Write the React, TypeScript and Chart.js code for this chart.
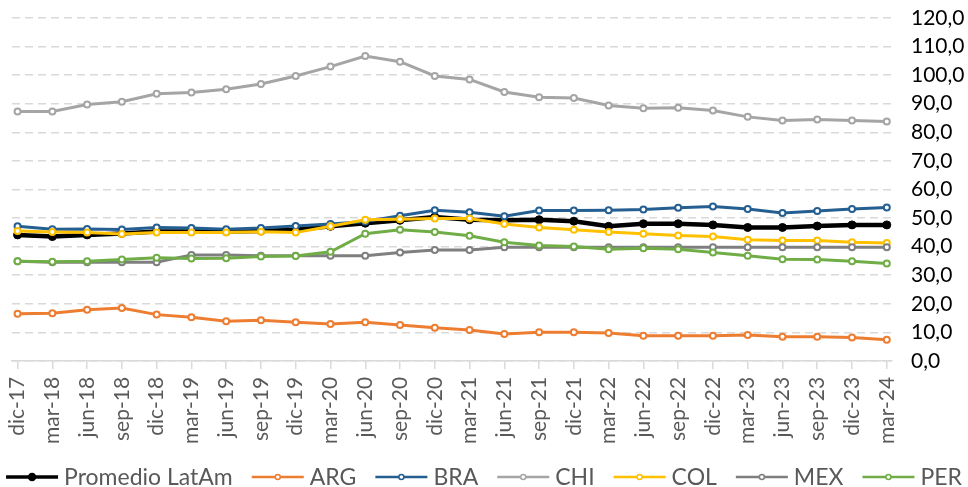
import React, { useEffect, useRef } from "react";
import { Chart, registerables } from "chart.js";

Chart.register(...registerables);

const categories = [
  "dic-17", "mar-18", "jun-18", "sep-18", "dic-18", "mar-19", "jun-19", "sep-19",
  "dic-19", "mar-20", "jun-20", "sep-20", "dic-20", "mar-21", "jun-21", "sep-21",
  "dic-21", "mar-22", "jun-22", "sep-22", "dic-22", "mar-23", "jun-23", "sep-23",
  "dic-23", "mar-24",
];

const promedio = [44.1, 43.5, 44.1, 44.6, 45.3, 45.3, 45.3, 45.5, 45.9, 47.1, 48.2, 49.2, 50.4, 49.4, 49.2, 49.4, 48.9, 47.1, 48.0, 48.0, 47.6, 46.7, 46.7, 47.2, 47.6, 47.6];
const arg = [16.5, 16.7, 17.9, 18.5, 16.2, 15.3, 13.9, 14.2, 13.5, 12.9, 13.5, 12.6, 11.6, 10.8, 9.4, 10.0, 10.0, 9.8, 8.8, 8.8, 8.8, 9.1, 8.5, 8.5, 8.2, 7.4];
const bra = [47.1, 46.1, 46.2, 46.0, 46.7, 46.5, 46.1, 46.5, 47.2, 47.9, 48.8, 50.8, 52.7, 52.0, 50.6, 52.6, 52.6, 52.7, 53.0, 53.6, 54.0, 53.2, 51.8, 52.5, 53.2, 53.7];
const chi = [87.3, 87.3, 89.7, 90.7, 93.5, 93.9, 95.1, 96.9, 99.7, 103.0, 106.7, 104.7, 99.7, 98.5, 94.1, 92.3, 92.0, 89.4, 88.4, 88.6, 87.6, 85.4, 84.1, 84.5, 84.1, 83.8];
const col = [45.5, 45.1, 44.9, 44.4, 44.9, 44.9, 44.9, 45.2, 44.9, 47.1, 49.4, 49.6, 49.8, 49.8, 47.9, 46.7, 45.9, 45.1, 44.5, 43.9, 43.5, 42.4, 42.1, 42.1, 41.5, 41.3];
const mex = [34.9, 34.5, 34.5, 34.5, 34.5, 37.1, 37.1, 36.8, 36.8, 36.8, 36.8, 37.9, 38.8, 38.8, 39.8, 39.8, 39.8, 39.8, 39.8, 39.8, 39.8, 39.8, 39.8, 39.8, 39.8, 39.8];
const per = [34.9, 34.7, 34.9, 35.5, 36.1, 35.8, 35.9, 36.5, 36.7, 38.2, 44.5, 45.9, 45.1, 43.8, 41.5, 40.4, 40.0, 39.1, 39.4, 39.1, 37.9, 36.8, 35.6, 35.5, 34.9, 34.1];

const seriesNames = ["Promedio LatAm", "ARG", "BRA", "CHI", "COL", "MEX", "PER"];
const seriesValues = [promedio, arg, bra, chi, col, mex, per];
const seriesColors = ["#000000", "#ED7D31", "#255E91", "#A5A5A5", "#FFC000", "#7F7F7F", "#70AD47"];

const yTicks = [0, 10, 20, 30, 40, 50, 60, 70, 80, 90, 100, 110, 120];

const FONT = "Lato, 'Open Sans', sans-serif";

const legendPlugin = {
  id: "excelLegend",
  afterDraw(chart: any) {
    const ctx = chart.ctx as CanvasRenderingContext2D;
    const datasets = chart.data.datasets;
    ctx.save();
    ctx.font = `23px ${FONT}`;
    const lineLen = 52;
    const gapText = 6;
    const gapItem = 19;
    const widths = datasets.map((ds: any) => lineLen + gapText + ctx.measureText(ds.label).width);
    const total = widths.reduce((a: number, b: number) => a + b, 0) + gapItem * (datasets.length - 1);
    let x = (chart.width - total) / 2;
    const y = chart.height - 10;
    datasets.forEach((ds: any, i: number) => {
      const isAvg = i === 0;
      ctx.strokeStyle = ds.borderColor;
      ctx.lineWidth = isAvg ? 3.5 : 2.5;
      ctx.beginPath();
      ctx.moveTo(x, y);
      ctx.lineTo(x + lineLen, y);
      ctx.stroke();
      ctx.beginPath();
      ctx.arc(x + lineLen / 2, y, isAvg ? 3.5 : 2.5, 0, Math.PI * 2);
      ctx.fillStyle = isAvg ? ds.borderColor : "#ffffff";
      ctx.fill();
      ctx.lineWidth = 1.5;
      ctx.stroke();
      ctx.fillStyle = "#595959";
      ctx.textAlign = "left";
      ctx.textBaseline = "middle";
      ctx.fillText(ds.label, x + lineLen + gapText, y + 1);
      x += widths[i] + gapItem;
    });
    ctx.restore();
  },
};

export default function App() {
  const canvasRef = useRef<HTMLCanvasElement | null>(null);

  useEffect(() => {
    if (!canvasRef.current) return;
    const datasets = seriesNames.map((name, i) => {
      const isAvg = i === 0;
      return {
        label: name,
        data: seriesValues[i].map((v, k) => ({ x: k, y: v })),
        borderColor: seriesColors[i],
        backgroundColor: seriesColors[i],
        borderWidth: isAvg ? 4.5 : 3,
        pointRadius: isAvg ? 4 : 3,
        pointBorderWidth: isAvg ? 1 : 2,
        pointBackgroundColor: isAvg ? seriesColors[i] : "#ffffff",
        pointBorderColor: seriesColors[i],
        pointHoverRadius: 4,
        tension: 0,
        fill: false,
        order: seriesNames.length - 1 - i,
      };
    });

    const chart = new Chart(canvasRef.current, {
      type: "line",
      data: { datasets },
      options: {
        responsive: false,
        animation: false,
        layout: { padding: { left: 12, right: 0, top: 18, bottom: 35 } },
        plugins: {
          legend: { display: false },
          tooltip: { enabled: false },
        },
        scales: {
          x: {
            type: "linear",
            min: -0.16,
            max: 25.15,
            afterBuildTicks: (scale: any) => {
              scale.ticks = categories.map((_, i) => ({ value: i }));
            },
            ticks: {
              autoSkip: false,
              maxRotation: 90,
              minRotation: 90,
              padding: 8,
              color: "#595959",
              font: { family: FONT, size: 21 },
              callback: (v: any) => categories[Math.round(Number(v))] ?? "",
            },
            grid: {
              drawOnChartArea: false,
              drawTicks: true,
              tickLength: 8,
              color: "#D9D9D9",
              lineWidth: 1.5,
            },
            border: { display: true, color: "#D9D9D9", width: 1.5 },
          },
          y: {
            position: "right",
            min: 0,
            max: 120,
            afterBuildTicks: (scale: any) => {
              scale.ticks = yTicks.map((v) => ({ value: v }));
            },
            afterFit: (scale: any) => {
              scale.width = 76;
            },
            ticks: {
              autoSkip: false,
              padding: 0,
              color: "#000000",
              font: { family: FONT, size: 21 },
              callback: (v: any) => Number(v).toFixed(1).replace(".", ","),
            },
            grid: {
              drawTicks: true,
              tickLength: 19,
              tickColor: "rgba(0,0,0,0)",
              color: "#D9D9D9",
              lineWidth: 1.5,
            },
            border: { display: false, dash: [8, 5] },
          },
        },
      },
      plugins: [legendPlugin],
    });
    return () => chart.destroy();
  }, []);

  return (
    <div style={{ position: "fixed", left: 0, top: 0, width: 968, height: 487, background: "#fff" }}>
      <canvas ref={canvasRef} width={968} height={487} style={{ display: "block" }} />
    </div>
  );
}
